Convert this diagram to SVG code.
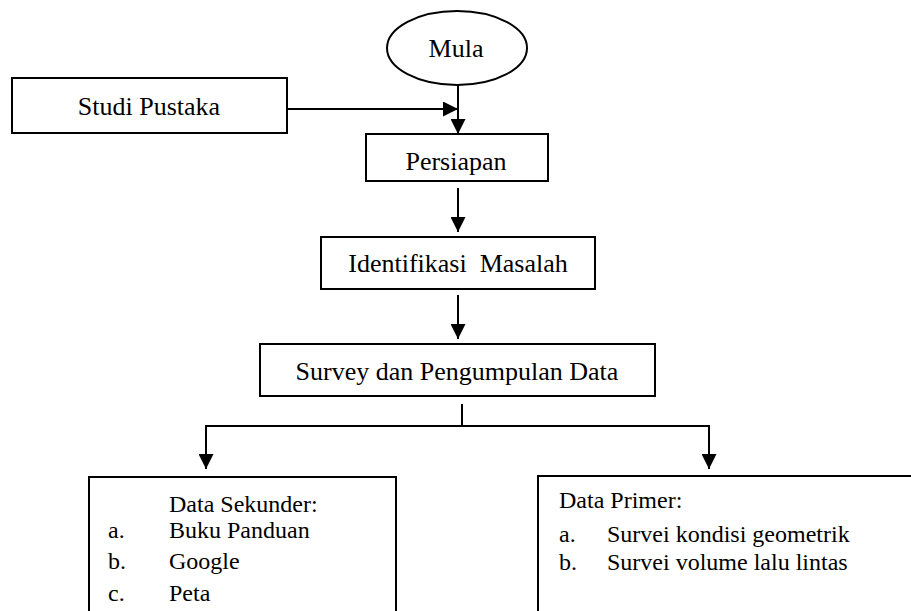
<svg xmlns="http://www.w3.org/2000/svg" width="911" height="611" viewBox="0 0 911 611">
<defs>
<marker id="ah" markerWidth="15" markerHeight="15" refX="15" refY="7.5" orient="auto" markerUnits="userSpaceOnUse">
<path d="M0,0 L15,7.5 L0,15 Z" fill="#000"/>
</marker>
<style>
.box{fill:#fff;stroke:#000;stroke-width:2}
.t{font-family:"Liberation Serif","Times New Roman",serif;font-size:26px;fill:#000}
.s{font-family:"Liberation Serif","Times New Roman",serif;font-size:24px;fill:#000}
.c{stroke:#000;stroke-width:2;fill:none}
</style>
</defs>
<rect width="911" height="611" fill="#fff"/>
<g id="connectors">
<line class="c" x1="458" y1="85" x2="458" y2="134" marker-end="url(#ah)"/>
<line class="c" x1="287" y1="109" x2="458" y2="109" marker-end="url(#ah)"/>
<line class="c" x1="458" y1="188" x2="458" y2="232" marker-end="url(#ah)"/>
<line class="c" x1="458" y1="295" x2="458" y2="339" marker-end="url(#ah)"/>
<polyline class="c" points="462,404 462,426"/>
<polyline class="c" points="206,426 709,426"/>
<line class="c" x1="206" y1="425" x2="206" y2="469" marker-end="url(#ah)"/>
<line class="c" x1="709" y1="425" x2="709" y2="469" marker-end="url(#ah)"/>
</g>
<g id="mula">
<ellipse class="box" cx="457" cy="48" rx="70" ry="37"/>
<text class="t" x="456" y="57" text-anchor="middle">Mula</text>
</g>
<g id="studi">
<rect class="box" x="12" y="78" width="275" height="55"/>
<text class="t" x="149" y="115" text-anchor="middle">Studi Pustaka</text>
</g>
<g id="persiapan">
<rect class="box" x="366" y="134" width="182" height="47"/>
<text class="t" x="456" y="170" text-anchor="middle">Persiapan</text>
</g>
<g id="identifikasi">
<rect class="box" x="321" y="237" width="274" height="52"/>
<text class="t" x="458" y="272" text-anchor="middle" xml:space="preserve">Identifikasi  Masalah</text>
</g>
<g id="survey">
<rect class="box" x="260" y="344" width="395" height="52"/>
<text class="t" x="457" y="380" text-anchor="middle">Survey dan Pengumpulan Data</text>
</g>
<g id="sekunder">
<rect class="box" x="89" y="477" width="307" height="150"/>
<text class="s" x="169" y="512">Data Sekunder:</text>
<text class="s" x="108" y="538">a.</text><text class="s" x="169" y="538">Buku Panduan</text>
<text class="s" x="108" y="569">b.</text><text class="s" x="169" y="569">Google</text>
<text class="s" x="108" y="601">c.</text><text class="s" x="169" y="601">Peta</text>
</g>
<g id="primer">
<rect class="box" x="538" y="476" width="400" height="150"/>
<text class="s" x="559" y="508">Data Primer:</text>
<text class="s" x="559" y="542">a.</text><text class="s" x="607" y="542">Survei kondisi geometrik</text>
<text class="s" x="559" y="570">b.</text><text class="s" x="607" y="570">Survei volume lalu lintas</text>
</g>
</svg>
